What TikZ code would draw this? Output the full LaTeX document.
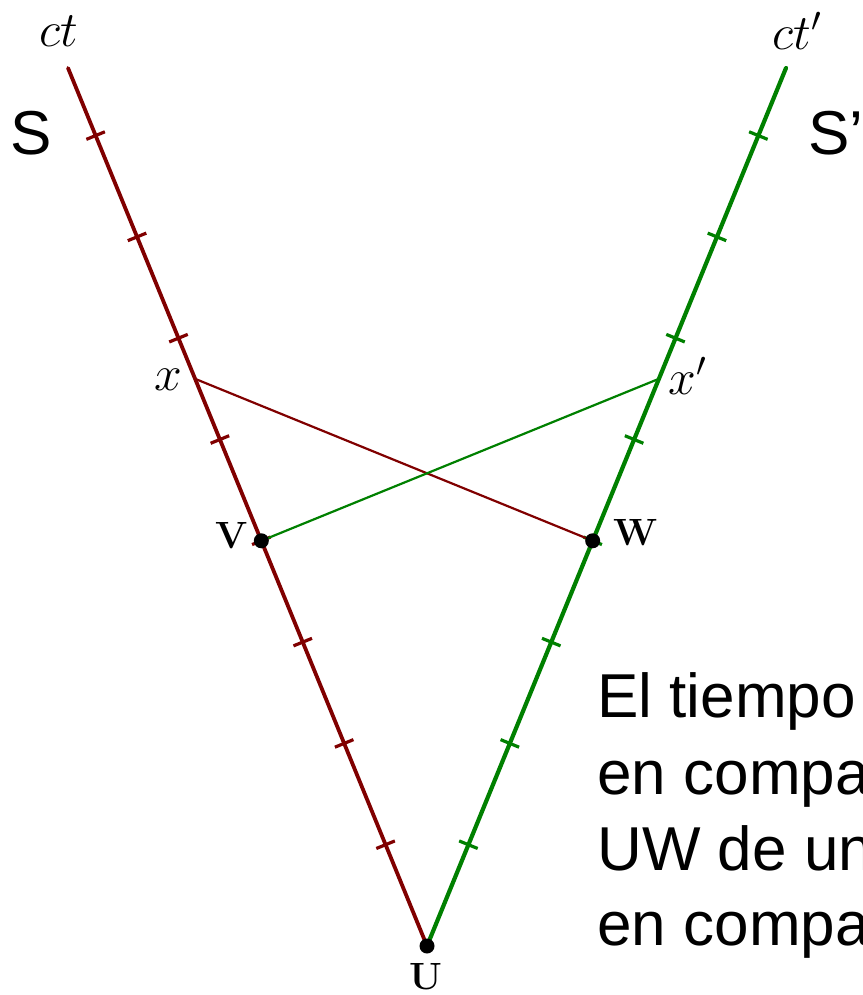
\documentclass[tikz,border=0pt]{standalone}
\usepackage{fontspec}
\newfontfamily\arialfont{Liberation Sans}
\usepackage{xcolor}
\usepackage{tikz}
\usetikzlibrary{calc, backgrounds}

\definecolor{worldS}{rgb}{0.5,0,0}
\definecolor{worldSp}{rgb}{0,0.5,0}

\begin{document}
\begin{tikzpicture}[
    x=0.5pt, y=-0.5pt,
    worldline/.style={line width=1.9pt, line cap=round},
    ticmark/.style={line width=1.6pt},
    signal/.style={line width=1.1pt},
    event/.style={circle, fill=black, inner sep=0pt, minimum size=7.5pt},
    evlabel/.style={font=\fontsize{19}{22}\selectfont\bfseries},
    axlabel/.style={font=\fontsize{23}{27}\selectfont},
    framelabel/.style={font=\fontsize{31}{38}\selectfont\arialfont, inner sep=0pt},
]
\useasboundingbox (0,0) rectangle (862,995);

\coordinate (O) at (427,946);
\coordinate (topS) at (68,68);
\coordinate (topSp) at (786,68);

% events
\node[event] (U) at (O) {};
\node[event] (V) at ($(O)!4/8.667!(topS)$) {};
\node[event] (W) at ($(O)!4/8.667!(topSp)$) {};
\coordinate (xS) at ($(O)!0.646!(topS)$);
\coordinate (xSp) at ($(O)!0.646!(topSp)$);

\begin{scope}[on background layer]
% world lines of S and S'
\draw[worldline, worldS] (U.center) -- (topS);
\draw[worldline, worldSp, line width=2.1pt] (U.center) -- (topSp);
\foreach \k in {1,...,8} {
    \path ($(O)!{\k/8.667}!(topS)$) coordinate (t);
    \draw[ticmark, worldS] ($(t)!5pt!90:(topS)$) -- ($(t)!5pt!-90:(topS)$);
    \path ($(O)!{\k/8.667}!(topSp)$) coordinate (t);
    \draw[ticmark, worldSp] ($(t)!5pt!90:(topSp)$) -- ($(t)!5pt!-90:(topSp)$);
}
% light signals
\draw[signal, worldS] (xS) -- (W.center);
\draw[signal, worldSp] (V.center) -- (xSp);
\end{scope}

% labels
\node[axlabel] (ctS) at (59,31) {$ct$};
\node[axlabel] (ctSp) at (797,31) {$ct'$};
\node[framelabel] (S) at (31,133) {S};
\node[framelabel, anchor=west] (Sp) at (808,133) {S’};
\node[axlabel] (xlab) at (168,380) {$x$};
\node[axlabel] (xplab) at (688,376) {$x'$};
\node[evlabel] (Vlab) at (232,536) {V};
\node[evlabel] (Wlab) at (636,533) {W};
\node[evlabel] (Ulab) at (426,977) {U};

% text
\node[framelabel, anchor=base west] (note1) at (597,717) {El tiempo};
\node[framelabel, anchor=base west] (note2) at (597,794) {en compa};
\node[framelabel, anchor=base west] (note3) at (597,870) {UW de un};
\node[framelabel, anchor=base west] (note4) at (597,945) {en compa};
\end{tikzpicture}
\end{document}
